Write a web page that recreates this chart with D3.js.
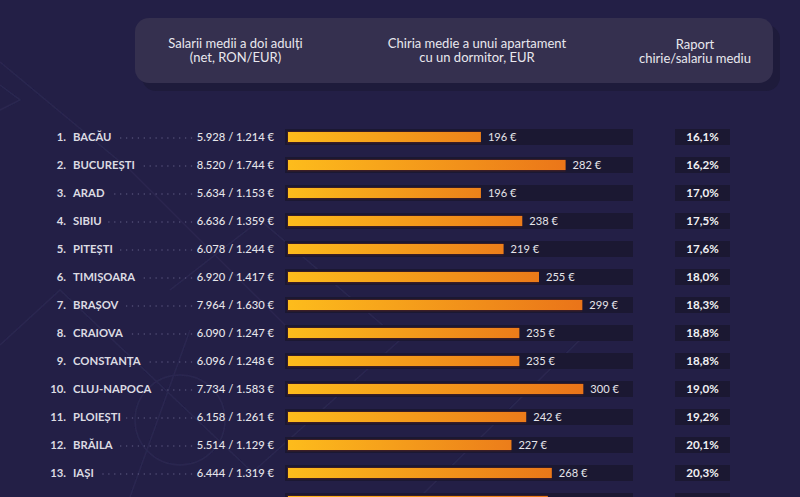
<!DOCTYPE html>
<html><head><meta charset="utf-8">
<script src="https://cdn.jsdelivr.net/npm/d3@7/dist/d3.min.js"></script>
<style>html,body{margin:0;padding:0;background:#231f46;overflow:hidden}svg{display:block}text{font-family:Lato,sans-serif}</style>
</head><body><svg id="c" width="800" height="497"></svg>
<script>
const cities=["BACĂU","BUCUREȘTI","ARAD","SIBIU","PITEȘTI","TIMIȘOARA","BRAȘOV","CRAIOVA","CONSTANȚA","CLUJ-NAPOCA","PLOIEȘTI","BRĂILA","IAȘI",""];
const salaries=["5.928 / 1.214 €","8.520 / 1.744 €","5.634 / 1.153 €","6.636 / 1.359 €","6.078 / 1.244 €","6.920 / 1.417 €","7.964 / 1.630 €","6.090 / 1.247 €","6.096 / 1.248 €","7.734 / 1.583 €","6.158 / 1.261 €","5.514 / 1.129 €","6.444 / 1.319 €",""];
const rents=[196,282,196,238,219,255,299,235,235,300,242,227,268,264];
const ratios=["16,1%","16,2%","17,0%","17,5%","17,6%","18,0%","18,3%","18,8%","18,8%","19,0%","19,2%","20,1%","20,3%","20,6%"];
const headers=[["Salarii medii a doi adulți","(net, RON/EUR)"],["Chiria medie a unui apartament","cu un dormitor, EUR"],["Raport","chirie/salariu mediu"]];

const svg=d3.select("#c");
const x=d3.scaleLinear().domain([0,300]).range([288,583.3]);
const y=d3.scaleBand().domain(d3.range(rents.length)).range([123,515]);
const defs=svg.append("defs");
rents.forEach((r,i)=>{
  const g=defs.append("linearGradient").attr("id","g"+i);
  g.append("stop").attr("offset",0).attr("stop-color","#fdbc1c");
  g.append("stop").attr("offset",1).attr("stop-color",d3.interpolateRgb("#f39a1c","#ea7419")(r/300));
});
defs.append("filter").attr("id","b").append("feGaussianBlur").attr("stdDeviation",0.6);
// faint floor-plan decoration
const deco=svg.append("g").attr("fill","none").attr("stroke","#2a2750").attr("stroke-width",1.4).attr("filter","url(#b)");
[[[0,62],[130,170],[300,340]],[[0,345],[60,290],[250,470]],[[0,110],[20,100],[0,85]],[[170,290],[260,220],[400,340],[255,470]],[[190,330],[130,497]],[[420,497],[590,330]]].forEach(p=>deco.append("path").attr("d",d3.line()(p)));
deco.append("circle").attr("cx",180).attr("cy",420).attr("r",45);

// header panel
svg.append("rect").attr("x",142).attr("y",25).attr("width",638).attr("height",66).attr("rx",14).attr("fill","#1e1b3b");
svg.append("rect").attr("x",135).attr("y",18).attr("width",638).attr("height",65).attr("rx",14).attr("fill","#35304f");
const hx=[235.5,477,695],hy=[[47.5,62],[47.5,62],[48.5,63]];
headers.forEach((h,i)=>h.forEach((t,j)=>svg.append("text").attr("x",hx[i]).attr("y",hy[i][j]).attr("text-anchor","middle").attr("font-size",13).attr("fill","#e9e8ee").text(t)));

const row=svg.selectAll("g.r").data(rents).join("g").attr("class","r");
const cy=(d,i)=>y(i)+y.bandwidth()/2;
row.append("rect").attr("x",285).attr("width",348).attr("y",(d,i)=>cy(d,i)-8).attr("height",16).attr("fill","#1b1832");
row.append("rect").attr("x",675).attr("width",55).attr("y",(d,i)=>cy(d,i)-8).attr("height",16).attr("fill","#1b1832");
row.append("rect").attr("x",287).attr("y",(d,i)=>cy(d,i)-6).attr("height",12.5).attr("width",d=>x(d)-287).attr("fill","#3a1d26");
row.append("rect").attr("x",288).attr("y",(d,i)=>cy(d,i)-5).attr("height",10).attr("width",d=>x(d)-288).attr("fill",(d,i)=>`url(#g${i})`);
row.append("text").attr("x",d=>x(d)+7).attr("y",(d,i)=>cy(d,i)+4).attr("font-size",11.1).attr("fill","#e6e5ea").text(d=>d+" €");
row.append("text").attr("x",702.5).attr("y",(d,i)=>cy(d,i)+4.2).attr("text-anchor","middle").attr("font-size",11.6).attr("font-weight",700).attr("fill","#f1f0f4").text((d,i)=>ratios[i]);
row.append("text").attr("x",66).attr("y",(d,i)=>cy(d,i)+4.3).attr("text-anchor","end").attr("font-size",11.3).attr("font-weight",700).attr("fill","#dcdbe2").text((d,i)=>cities[i]?(i+1)+".":"");
const names=row.append("text").attr("x",73).attr("y",(d,i)=>cy(d,i)+4.3).attr("font-size",11.3).attr("font-weight",700).attr("fill","#dcdbe2").text((d,i)=>cities[i]);
row.append("text").attr("x",274).attr("y",(d,i)=>cy(d,i)+4.3).attr("text-anchor","end").attr("font-size",11.2).attr("font-weight",500).attr("fill","#e6e5ea").text((d,i)=>salaries[i]);
names.each(function(d,i){
  if(!cities[i])return;
  const end=73+this.getComputedTextLength()+5;
  const c=[];for(let p=191.5;p>=end;p-=5.9)c.push(p);
  d3.select(this.parentNode).selectAll("circle.dot").data(c).join("circle").attr("class","dot").attr("cx",p=>p).attr("cy",cy(d,i)+1).attr("r",.75).attr("fill","#56527a");
});
</script></body></html>
